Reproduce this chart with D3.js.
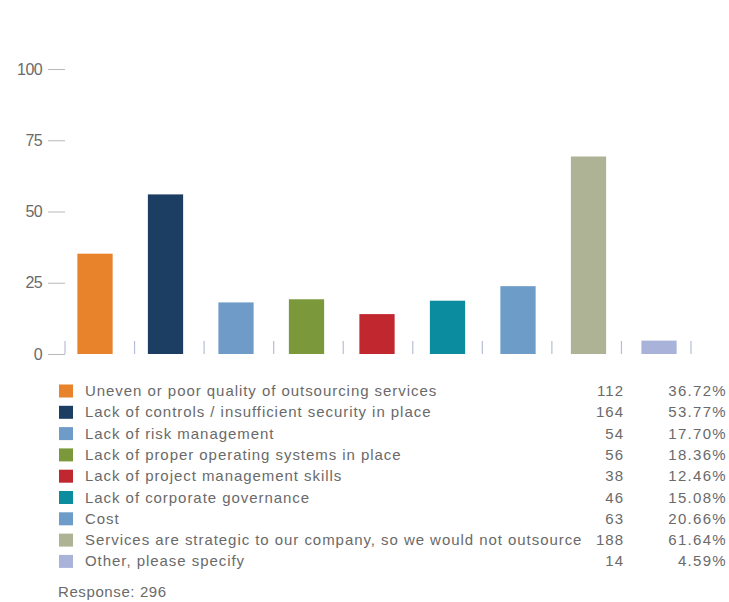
<!DOCTYPE html>
<html>
<head>
<meta charset="utf-8">
<script src="https://cdn.jsdelivr.net/npm/d3@7"></script>
<style>
  html, body { margin: 0; padding: 0; background: #fff; }
  svg { display: block; }
  text { font-family: "Liberation Sans", Arial, sans-serif; fill: #6a6a6a; }
</style>
</head>
<body>
<svg id="chart" width="729" height="602"></svg>
<script>
// Reasons for not outsourcing, survey responses
const categories = [
  "Uneven or poor quality of outsourcing services",
  "Lack of controls / insufficient security in place",
  "Lack of risk management",
  "Lack of proper operating systems in place",
  "Lack of project management skills",
  "Lack of corporate governance",
  "Cost",
  "Services are strategic to our company, so we would not outsource",
  "Other, please specify"
];
// Bar heights as plotted on the 0-100 axis
const barValues = [35.2, 56, 18.1, 19.2, 14, 18.7, 23.8, 69.3, 4.7];
const counts = [112, 164, 54, 56, 38, 46, 63, 188, 14];
const percents = ["36.72%", "53.77%", "17.70%", "18.36%", "12.46%", "15.08%", "20.66%", "61.64%", "4.59%"];
const colors = ["#e8822b", "#1c3e62", "#6f9bc9", "#7b983a", "#c1272f", "#0b8c9f", "#6c9cc7", "#afb396", "#a9b3d9"];
const yTicks = [0, 25, 50, 75, 100];
const responseLabel = "Response: 296";

const svg = d3.select("#chart");

const x = d3.scaleBand()
  .domain(d3.range(categories.length))
  .range([59.75, 694.25])
  .paddingInner(0.5)
  .paddingOuter(0.25);

const y = d3.scaleLinear().domain([0, 100]).range([354, 69]);

// Y axis: short dashes with labels, no spine
const yAxis = d3.axisLeft(y).tickValues(yTicks).tickSize(17).tickPadding(6);
const yg = svg.append("g").attr("transform", "translate(65,0)").call(yAxis);
yg.select(".domain").remove();
yg.selectAll(".tick line").attr("stroke", "#b9b9b9").attr("stroke-width", 1);
yg.selectAll(".tick text")
  .attr("font-size", 16)
  .attr("letter-spacing", -0.6)
  .style("fill", "#6a6a6a");

// Category separators along the base
const sepScale = d3.scaleLinear().domain([0, categories.length]).range([65, 691]);
svg.append("g").selectAll("line")
  .data(d3.range(categories.length + 1))
  .join("line")
  .attr("x1", d => sepScale(d))
  .attr("x2", d => sepScale(d))
  .attr("y1", y(0) - 13)
  .attr("y2", y(0))
  .attr("stroke", "#b7bfd6")
  .attr("stroke-width", 1.2);

// Bars
svg.append("g").selectAll("rect")
  .data(barValues)
  .join("rect")
  .attr("x", (d, i) => x(i))
  .attr("width", x.bandwidth())
  .attr("y", d => y(d))
  .attr("height", d => y(0) - y(d))
  .attr("fill", (d, i) => colors[i]);

// Legend table
const rowY = d3.scaleLinear().domain([0, 1]).range([391, 412.3]);
const rows = svg.append("g").selectAll("g")
  .data(categories)
  .join("g")
  .attr("transform", (d, i) => `translate(0,${rowY(i)})`);

rows.append("rect")
  .attr("x", 59).attr("y", -6.5)
  .attr("width", 14).attr("height", 13)
  .attr("fill", (d, i) => colors[i]);

rows.append("text")
  .attr("x", 85).attr("y", 5)
  .attr("font-size", 15)
  .attr("letter-spacing", 0.95)
  .text(d => d);

rows.append("text")
  .attr("x", 624).attr("y", 5)
  .attr("text-anchor", "end")
  .attr("font-size", 15)
  .attr("letter-spacing", 1)
  .text((d, i) => counts[i]);

rows.append("text")
  .attr("x", 727).attr("y", 5)
  .attr("text-anchor", "end")
  .attr("font-size", 15)
  .attr("letter-spacing", 1.3)
  .text((d, i) => percents[i]);

svg.append("text")
  .attr("x", 58).attr("y", 597)
  .attr("font-size", 15)
  .attr("letter-spacing", 0.6)
  .text(responseLabel);
</script>
</body>
</html>
